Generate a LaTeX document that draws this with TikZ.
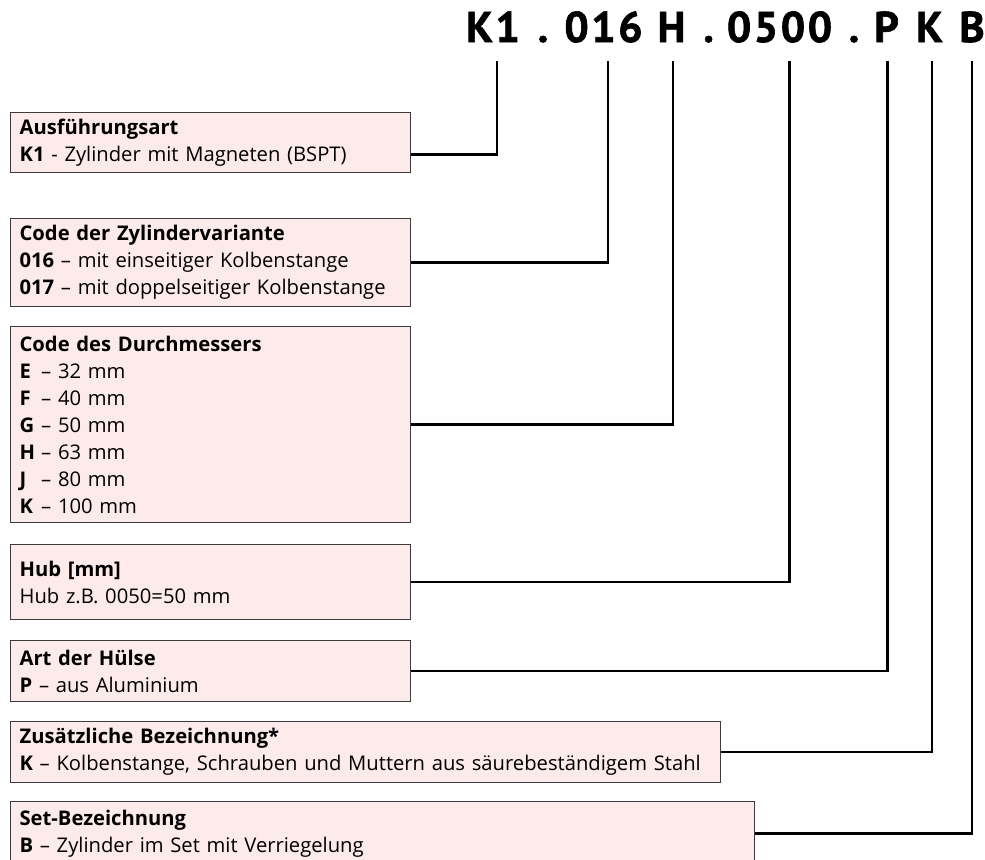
\documentclass[tikz,border=0pt]{standalone}
\usepackage{fontspec}
\setmainfont{Open Sans}
\newfontfamily\codefont[LetterSpace=6,FakeBold=1.5]{PT Sans}

\definecolor{boxfill}{HTML}{FDEAEA}
\definecolor{boxline}{HTML}{3C3C3C}

\begin{document}
\begin{tikzpicture}[x=0.5pt, y=-0.5pt,
		descbox/.style={draw=boxline, line width=0.6pt, fill=boxfill, anchor=north west,
			inner xsep=4.5pt, inner ysep=0pt, align=left,
			font=\fontsize{10.1}{13.5}\selectfont},
		codepart/.style={anchor=base, inner sep=0pt, font=\codefont\fontsize{21.5}{21.5}\bfseries},
		link/.style={draw=black, line width=1.2pt}]
			\useasboundingbox (0,0) rectangle (985,859);
			\clip (0,0) rectangle (985,859);
			
			% Code line
			\foreach \n/\x/\t in {K1/493/K1, 016/603.5/016, H/671.5/H, 0500/779.5/0500, P/886.5/P, K/929.5/K, B/972/B} {
				\node[codepart] (c-\n) at (\x,42) {\t};
			}
			\foreach \i/\x in {1/543, 2/708.6, 3/854} {
				\node[codepart] (dot-\i) at (\x,42) {.};
			}
			
			% Tick points under the code
			\foreach \n/\x in {K1/497, 016/608, H/673, 0500/789.5, P/887.6, K/932, B/972} {
				\coordinate (t-\n) at (\x,61);
			}
			
			% Description boxes
			\node[descbox, text width=191pt, minimum height=30pt] (ausf) at (10,112)
				{\textbf{Ausführungsart}\\ \textbf{K1} - Zylinder mit Magneten (BSPT)};
			\node[descbox, text width=191pt, minimum height=44pt] (variante) at (10,218)
				{\textbf{Code der Zylindervariante}\\
				 \textbf{016} – mit einseitiger Kolbenstange\\
				 \textbf{017} – mit doppelseitiger Kolbenstange};
			\node[descbox, text width=191pt, minimum height=98pt] (durchm) at (10,326)
				{\textbf{Code des Durchmessers}\\
				 \makebox[10.8pt][l]{\textbf{E}}– 32 mm\\
				 \makebox[10.8pt][l]{\textbf{F}}– 40 mm\\
				 \makebox[10.8pt][l]{\textbf{G}}– 50 mm\\
				 \makebox[10.8pt][l]{\textbf{H}}– 63 mm\\
				 \makebox[10.8pt][l]{\textbf{J}}– 80 mm\\
				 \makebox[10.8pt][l]{\textbf{K}}– 100 mm};
			\node[descbox, text width=191pt, minimum height=37.5pt] (hub) at (10,544)
				{\textbf{Hub [mm]}\\ Hub z.B. 0050=50 mm};
			\node[descbox, text width=191pt, minimum height=30.5pt] (huelse) at (10,640)
				{\textbf{Art der Hülse}\\ \textbf{P} – aus Aluminium};
			\node[descbox, text width=346pt, minimum height=30.5pt] (zusatz) at (10,721)
				{\textbf{Zusätzliche Bezeichnung*}\\
				 \textbf{K} – Kolbenstange, Schrauben und Muttern aus säurebeständigem Stahl};
			\node[descbox, text width=363pt, minimum height=32pt] (set) at (10,801)
				{\textbf{Set-Bezeichnung}\\ \textbf{B} – Zylinder im Set mit Verriegelung};
			
			% Connections
			\draw[link] ([yshift=-6pt]ausf.east) -| (t-K1);
			\draw[link] (variante.east) -| (t-016);
			\draw[link] (durchm.east) -| (t-H);
			\draw[link] (hub.east) -| (t-0500);
			\draw[link] (huelse.east) -| (t-P);
			\draw[link] (zusatz.east) -| (t-K);
			\draw[link] (set.east) -| (t-B);
		\end{tikzpicture}
\end{document}
